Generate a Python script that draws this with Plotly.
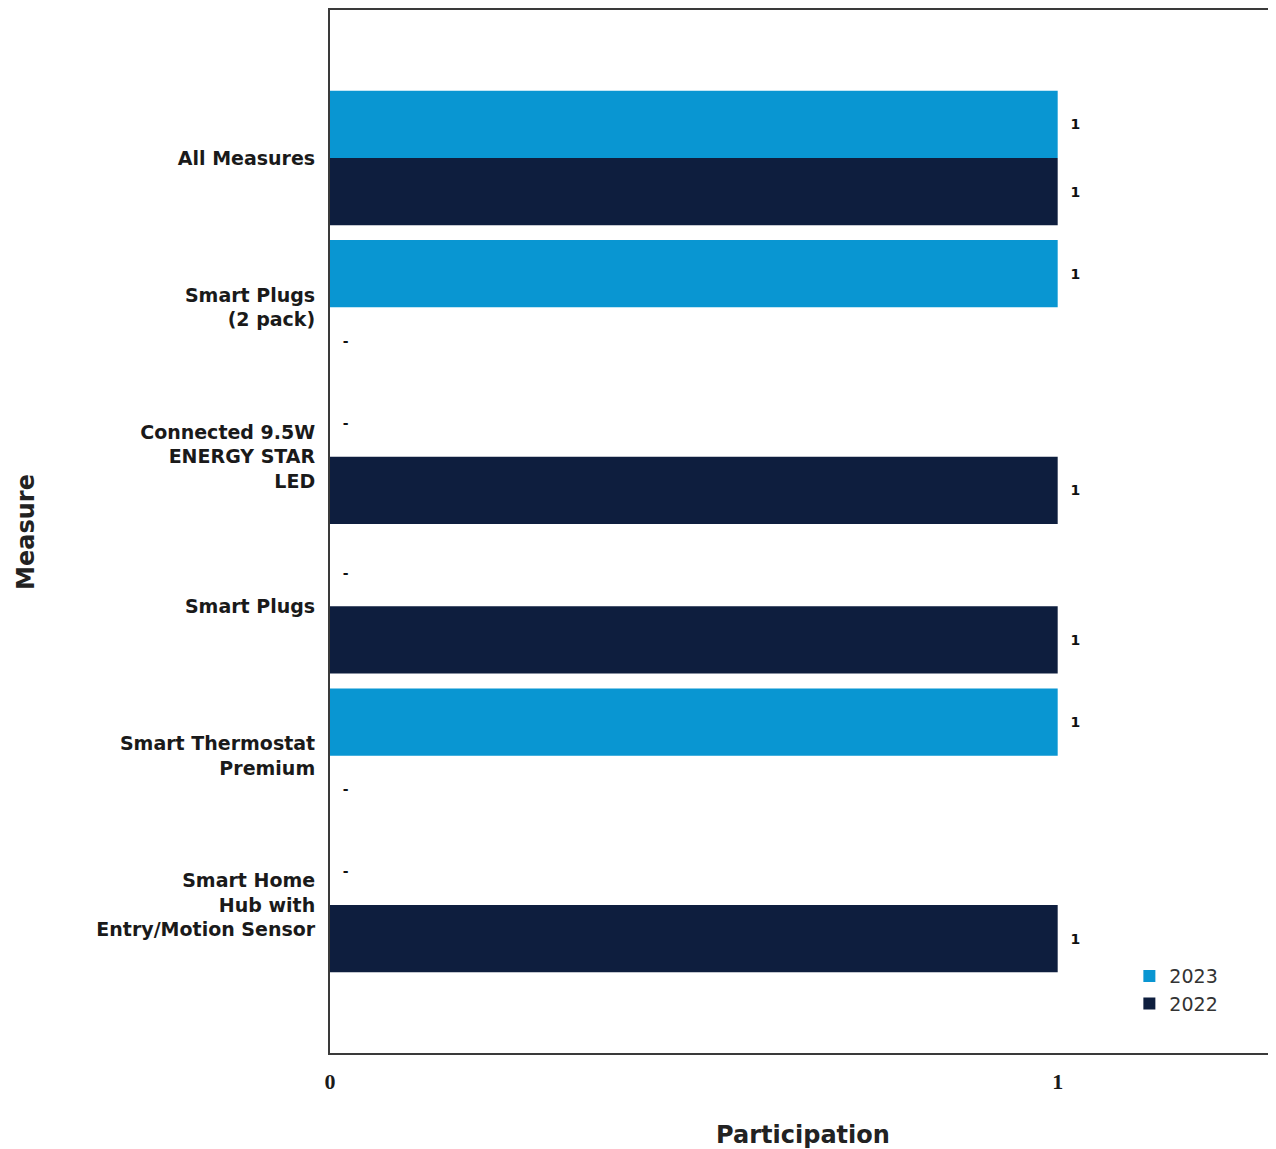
import plotly.graph_objects as go

categories = [
    "All Measures",
    "Smart Plugs<br>(2 pack)",
    "Connected 9.5W<br>ENERGY STAR<br>LED",
    "Smart Plugs",
    "Smart Thermostat<br>Premium",
    "Smart Home<br>Hub with<br>Entry/Motion Sensor",
]
values_2023 = [1, 1, None, None, 1, None]
values_2022 = [1, None, 1, 1, None, 1]
x_ticks = [0, 1]

colors = {"2023": "#0996D2", "2022": "#0E1E3E"}


def bar_trace(name, vals):
    xs = [v if v is not None else 0 for v in vals]
    texts = ["\u00a0\u00a0" + str(v) if v is not None else "\u00a0\u00a0-" for v in vals]
    return go.Bar(
        name=name,
        y=categories,
        x=xs,
        orientation="h",
        marker=dict(color=colors[name], line=dict(width=0)),
        text=texts,
        textposition="outside",
        constraintext="none",
        textfont=dict(family="DejaVu Sans", size=14, color="#111111", weight="bold"),
        cliponaxis=False,
    )


fig = go.Figure()
fig.add_trace(bar_trace("2023", values_2023))
fig.add_trace(bar_trace("2022", values_2022))

fig.add_annotation(
    text="<b>Measure</b>",
    xref="paper", yref="paper",
    x=-0.322, y=0.5,
    xanchor="center", yanchor="middle",
    textangle=-90,
    showarrow=False,
    font=dict(family="DejaVu Sans", size=24, color="#222222"),
)

fig.update_layout(
    width=1268,
    height=1141,
    margin=dict(l=322, r=0, t=2, b=96),
    paper_bgcolor="white",
    plot_bgcolor="white",
    barmode="group",
    bargap=0.1,
    bargroupgap=0,
    showlegend=True,
    legend=dict(
        x=0.845,
        y=0.092,
        xanchor="left",
        yanchor="top",
        font=dict(family="DejaVu Sans", size=19, color="#333333"),
        bgcolor="rgba(0,0,0,0)",
        traceorder="normal",
        itemsizing="constant",
        tracegroupgap=4,
    ),
    xaxis=dict(
        range=[0, 1.3],
        tickvals=x_ticks,
        ticktext=[str(t) for t in x_ticks],
        showgrid=False,
        zeroline=False,
        showline=True,
        linecolor="#3a3a3a",
        linewidth=2,
        mirror=True,
        ticks="",
        tickfont=dict(family="Liberation Serif", size=22, color="#1a1a1a", weight="bold"),
        ticklabelstandoff=8,
        title=dict(
            text="<b>Participation</b>",
            font=dict(family="DejaVu Sans", size=24, color="#222222"),
            standoff=33,
        ),
    ),
    yaxis=dict(
        type="category",
        range=[5.99, -0.99],
        showgrid=False,
        zeroline=False,
        showline=True,
        linecolor="#3a3a3a",
        linewidth=2,
        ticks="",
        tickfont=dict(family="DejaVu Sans", size=19, color="#1a1a1a", weight="bold"),
        ticklabelstandoff=9,
    ),
)

fig.write_html("out.html")
